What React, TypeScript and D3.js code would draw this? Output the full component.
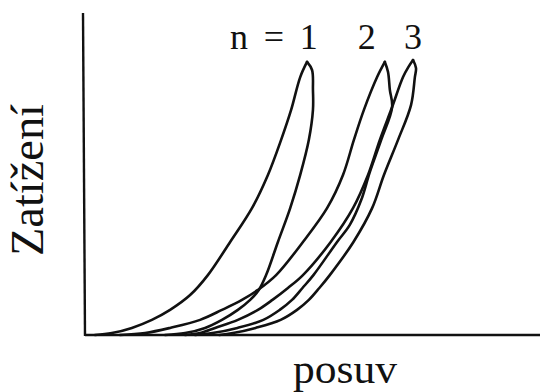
import React from "react";
import * as d3 from "d3";

// Load–displacement hysteresis loops for three loading cycles (n = 1, 2, 3).
// Each cycle: [displacement, load] pairs; loading branch ends at the peak,
// unloading branch starts from it.
type Pt = [number, number];

const cycle1Loading: Pt[] = [
  [2.2, 0], [5.9, 0.6], [10.3, 2.2], [14.7, 4.7], [18.7, 7.8], [23.1, 12.4],
  [27.0, 18.6], [31.9, 28.9], [36.7, 39.4], [40.2, 49.7], [43.1, 60.6],
  [45.3, 69.9], [47.3, 80.1], [48.8, 84.8],
];
const cycle1Unloading: Pt[] = [
  [48.8, 84.8], [49.9, 82.3], [50.1, 76.1], [50.1, 69.9], [49.2, 60.6],
  [47.3, 49.7], [45.1, 39.4], [42.4, 28.9], [39.8, 18.6], [38.2, 14.0],
  [36.3, 10.9], [33.6, 7.8], [30.1, 4.7], [26.4, 2.2], [22.0, 0.6], [17.6, 0],
];

const cycle2Loading: Pt[] = [
  [7.7, 0], [13.2, 0.6], [18.7, 2.2], [25.3, 4.7], [30.1, 7.8], [34.5, 10.9],
  [38.0, 14.0], [42.0, 18.6], [47.9, 28.9], [53.2, 39.4], [56.7, 49.7],
  [59.1, 60.6], [61.3, 69.9], [64.2, 80.1], [65.9, 84.8],
];
const cycle2Unloading: Pt[] = [
  [65.9, 84.8], [66.6, 81.7], [67.0, 76.1], [67.5, 70.8], [65.1, 60.6],
  [62.6, 50.6], [60.7, 41.9], [58.2, 34.2], [55.4, 28.9], [50.2, 18.6],
  [47.8, 14.6], [45.5, 10.9], [42.8, 7.8], [39.2, 4.7], [33.5, 2.2],
  [28.0, 0.6], [24.2, 0],
];

const cycle3Loading: Pt[] = [
  [22.0, 0], [25.3, 0.6], [28.6, 2.2], [33.6, 4.7], [38.0, 7.8], [41.2, 10.9],
  [44.6, 14.6], [47.9, 18.6], [54.0, 28.9], [58.9, 39.4], [62.2, 49.7],
  [64.8, 60.6], [67.5, 70.8], [69.9, 80.1], [71.2, 83.5], [72.1, 85.4],
];
const cycle3Unloading: Pt[] = [
  [72.1, 85.4], [72.75, 82.9], [72.5, 80.1], [71.65, 71.4], [68.8, 60.6],
  [65.7, 49.7], [63.1, 39.4], [59.0, 28.9], [53.8, 18.6], [51.5, 14.6],
  [49.2, 10.9], [46.6, 7.8], [43.0, 4.7], [37.5, 2.2], [32.5, 0.6], [29.5, 0],
];

const cycleLabels = ["1", "2", "3"];
// horizontal anchor of each cycle number, in displacement units
const cycleLabelX = [49.2, 61.9, 72.1];

const xLabel = "posuv";
const yLabel = "Zatížení";

const W = 540;
const H = 392;
const FONT = "Liberation Serif";
const INK = "#111";

export default function App() {
  const x = d3.scaleLinear().domain([0, 100]).range([85, 540]);
  const y = d3.scaleLinear().domain([0, 100]).range([335, 13]);

  const line = d3
    .line<Pt>()
    .x((d) => x(d[0]))
    .y((d) => y(d[1]))
    .curve(d3.curveCatmullRom.alpha(0.5));

  const branches = [
    cycle1Loading, cycle1Unloading,
    cycle2Loading, cycle2Unloading,
    cycle3Loading, cycle3Unloading,
  ];

  return (
    <svg
      width={W}
      height={H}
      style={{ position: "absolute", left: 0, top: 0, background: "#fff" }}
    >
      <rect width={W} height={H} fill="#fff" />
      {/* axes */}
      <line x1={x(0) - 2} y1={y(100)} x2={x(0)} y2={y(0) + 1} stroke={INK} strokeWidth={2.4} />
      <line x1={x(0)} y1={y(0)} x2={x(100)} y2={y(0)} stroke={INK} strokeWidth={2.6} />
      {/* hysteresis branches */}
      {branches.map((pts, i) => (
        <path
          key={i}
          d={line(pts) ?? ""}
          fill="none"
          stroke={INK}
          strokeWidth={2.6}
          strokeLinejoin="round"
          strokeLinecap="round"
        />
      ))}
      {/* cycle numbers */}
      <g style={{ fontFamily: FONT }} fontSize={36} fill={INK} textAnchor="middle">
        <text x={239} y={49}>n</text>
        <text x={274} y={49}>=</text>
        {cycleLabels.map((t, i) => (
          <text key={t} x={x(cycleLabelX[i])} y={49}>
            {t}
          </text>
        ))}
      </g>
      {/* axis titles */}
      <text
        x={293}
        y={383}
        style={{ fontFamily: FONT }}
        fontSize={43}
        textLength={104}
        lengthAdjust="spacingAndGlyphs"
        fill={INK}
      >
        {xLabel}
      </text>
      <text
        transform="translate(43,256) rotate(-90)"
        style={{ fontFamily: FONT }}
        fontSize={46}
        textLength={152}
        lengthAdjust="spacingAndGlyphs"
        fill={INK}
      >
        {yLabel}
      </text>
    </svg>
  );
}
